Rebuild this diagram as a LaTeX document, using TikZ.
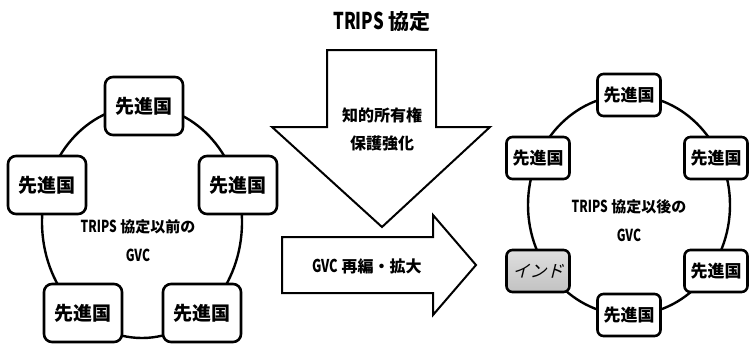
\documentclass[tikz,border=0pt]{standalone}
\usepackage{fontspec}
\usepackage{graphicx}
\setmainfont{Noto Sans CJK JP}
\newfontfamily\jpsl{Noto Sans CJK JP}[FakeSlant=0.25]
\newcommand{\cnd}[1]{\scalebox{0.8}[1.1]{#1}}
\begin{document}
\begin{tikzpicture}[x=1pt,y=-1pt,
  bigbox/.style={draw,line width=2.6pt,rounded corners=8pt,fill=white,minimum width=78pt,minimum height=58pt,inner sep=0pt,font=\fontsize{19}{21}\selectfont\bfseries},
  smallbox/.style={draw,line width=2.6pt,rounded corners=6pt,fill=white,minimum width=63pt,minimum height=42pt,inner sep=0pt,font=\fontsize{17}{19}\selectfont\bfseries},
  ring/.style={line width=2.4pt},
  bigarrow/.style={draw,line width=2pt,fill=white,line join=miter},
  lbl/.style={font=\fontsize{16}{18}\selectfont\bfseries,inner sep=0pt},
  inner/.style={font=\fontsize{15}{17}\selectfont\bfseries,inner sep=0pt},
]
\useasboundingbox (0,0) rectangle (750,351);
% title
\node[font=\fontsize{21}{23}\selectfont\bfseries] (title) at (382,22) {\cnd{TRIPS} 協定};
% arrows
\draw[bigarrow] (327,50) -- (436,50) -- (436,127) -- (490,127) -- (382,227) -- (272,127) -- (327,127) -- cycle;
\node[lbl] (k1) at (382,115) {知的所有権};
\node[lbl] (k2) at (382,143) {保護強化};
\draw[bigarrow] (282,237) -- (433,237) -- (433,215) -- (476,265) -- (433,315) -- (433,293) -- (282,293) -- cycle;
\node[lbl] (gvcr) at (367,266) {\cnd{GVC} 再編・拡大};
% left ring
\draw[ring] (142,222) ellipse [x radius=100, y radius=116];
\node[bigbox] (L1) at (144,106) {先進国};
\node[bigbox] (L2) at (47,185) {先進国};
\node[bigbox] (L3) at (238,185) {先進国};
\node[bigbox] (L4) at (83,313) {先進国};
\node[bigbox] (L5) at (202,313) {先進国};
\node[inner] (lt1) at (138,227) {\cnd{TRIPS} 協定以前の};
\node[inner] (lt2) at (138,255) {\cnd{GVC}};
% right ring
\draw[ring] (629,205) ellipse [x radius=101, y radius=110];
\node[smallbox] (R1) at (629,95) {先進国};
\node[smallbox] (R2) at (538,158) {先進国};
\node[smallbox] (R3) at (716,158) {先進国};
\node[smallbox,top color=gray!25,bottom color=gray!48,font=\fontsize{17}{19}\selectfont\jpsl] (R4) at (538,271) {インド};
\node[smallbox] (R5) at (716,271) {先進国};
\node[smallbox] (R6) at (629,315) {先進国};
\node[inner] (rt1) at (629,207) {\cnd{TRIPS} 協定以後の};
\node[inner] (rt2) at (629,235) {\cnd{GVC}};
\end{tikzpicture}
\end{document}
